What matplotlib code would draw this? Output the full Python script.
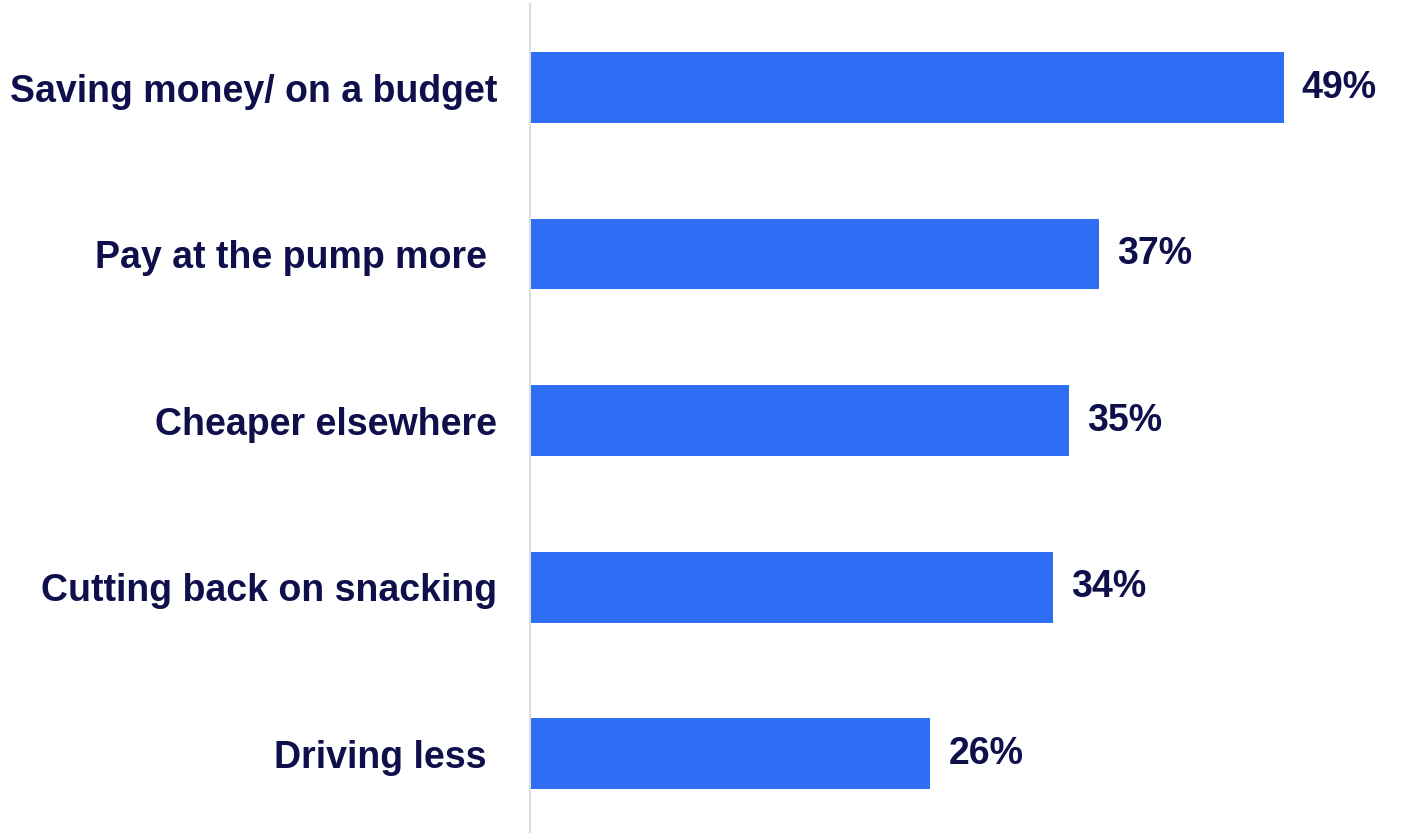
import matplotlib.pyplot as plt

# Reasons given, top to bottom
categories = ["Saving money/ on a budget", "Pay at the pump more ",
              "Cheaper elsewhere", "Cutting back on snacking", "Driving less "]
values = [49, 37, 35, 34, 26]
value_labels = ["49%", "37%", "35%", "34%", "26%"]

BAR_COLOR = "#2d6ef5"
TEXT_COLOR = "#0f0f4b"
AXIS_COLOR = "#dcdcdc"

plt.rcParams['font.family'] = ['Liberation Sans', 'DejaVu Sans']

fig = plt.figure(figsize=(14.04, 8.33), dpi=100)
ax = fig.add_axes([530 / 1404, 0, 1 - 530 / 1404, 1 - 4 / 833])

pos = list(range(len(categories)))
ax.barh(pos, values, height=0.426, color=BAR_COLOR, left=0.07)

ax.set_xlim(0, 56.9)
ax.set_ylim(4.477, -0.5015)

for y, v, lab in zip(pos, values, value_labels):
    ax.annotate(lab, xy=(v + 0.07, y), xytext=(13, 0), textcoords="offset points",
                ha="left", va="center", fontsize=27, fontweight="bold",
                color=TEXT_COLOR)

ax.set_yticks(pos)
ax.set_yticklabels(categories, fontsize=27, fontweight="bold", color=TEXT_COLOR)
ax.tick_params(axis="y", length=0, pad=23.5)
ax.set_xticks([])

for side in ["top", "right", "bottom"]:
    ax.spines[side].set_visible(False)
ax.spines["left"].set_color(AXIS_COLOR)
ax.spines["left"].set_linewidth(1.5)

fig.savefig("out.png", dpi=100)
